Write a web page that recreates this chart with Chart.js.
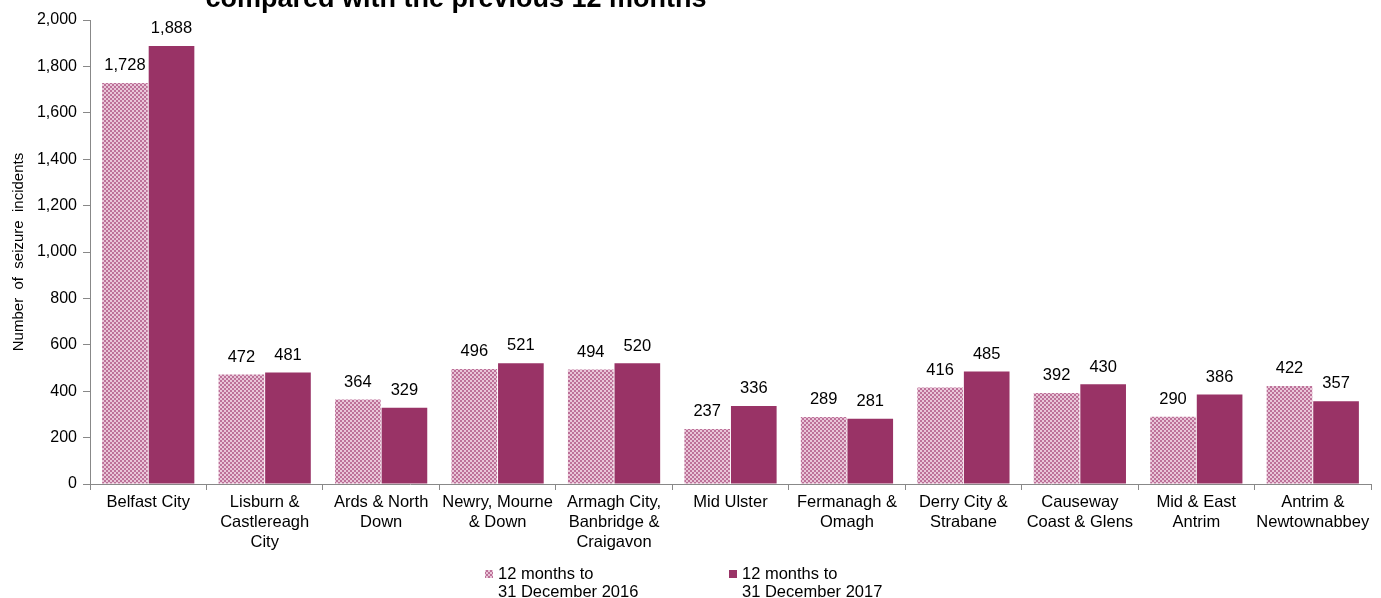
<!DOCTYPE html>
<html>
<head>
<meta charset="utf-8">
<script src="https://cdn.jsdelivr.net/npm/chart.js@4.4.1/dist/chart.umd.min.js"></script>
<style>
  html, body { margin: 0; padding: 0; background: #fff; }
  #wrap { width: 1381px; height: 598px; position: relative; }
</style>
</head>
<body>
<div id="wrap"><canvas id="seizureChart" width="1381" height="598"></canvas></div>
<script>
// Seizure incidents by policing district
const districts = [
    ["Belfast City"],
    ["Lisburn &", "Castlereagh", "City"],
    ["Ards & North", "Down"],
    ["Newry, Mourne", "& Down"],
    ["Armagh City,", "Banbridge &", "Craigavon"],
    ["Mid Ulster"],
    ["Fermanagh &", "Omagh"],
    ["Derry City &", "Strabane"],
    ["Causeway", "Coast & Glens"],
    ["Mid & East", "Antrim"],
    ["Antrim &", "Newtownabbey"]
];
const incidents2016 = [1728, 472, 364, 496, 494, 237, 289, 416, 392, 290, 422];
const incidents2017 = [1888, 481, 329, 521, 520, 336, 281, 485, 430, 386, 357];
const seriesNames = [["12 months to", "31 December 2016"], ["12 months to", "31 December 2017"]];
const yTicks = [0, 200, 400, 600, 800, 1000, 1200, 1400, 1600, 1800, 2000];
const titleText = "compared with the previous 12 months";
const yTitle = "Number  of  seizure  incidents";

const FONT = "'Liberation Sans', Arial, sans-serif";
const solidColour = "#993366";

// small checkered fill for the earlier period
function makeChecker() {
    const c = document.createElement("canvas");
    c.width = 4; c.height = 4;
    const g = c.getContext("2d");
    g.fillStyle = "#e9c6d8";
    g.fillRect(0, 0, 4, 4);
    g.fillStyle = "#bd7199";
    g.fillRect(0, 0, 2, 2);
    g.fillRect(2, 2, 2, 2);
    return g.createPattern(c, "repeat");
}
const checker = makeChecker();

// value labels over each bar
const valueLabels = {
    id: "valueLabels",
    afterDatasetsDraw(chart) {
        const ctx = chart.ctx;
        ctx.save();
        ctx.font = "16.5px " + FONT;
        ctx.fillStyle = "#000";
        ctx.textAlign = "center";
        ctx.textBaseline = "bottom";
        chart.data.datasets.forEach((ds, i) => {
            chart.getDatasetMeta(i).data.forEach((bar, j) => {
                ctx.fillText(ds.data[j].toLocaleString("en-GB"), bar.x, bar.y - 9);
            });
        });
        ctx.restore();
    }
};

// cut-off title line at the very top
const topTitle = {
    id: "topTitle",
    afterDraw(chart) {
        const ctx = chart.ctx;
        ctx.save();
        ctx.font = "bold 27px " + FONT;
        ctx.fillStyle = "#000";
        ctx.textAlign = "center";
        ctx.textBaseline = "alphabetic";
        ctx.fillText(titleText, 456, 7);
        ctx.restore();
    }
};

// two-line legend below the axis
const bottomLegend = {
    id: "bottomLegend",
    afterDraw(chart) {
        const ctx = chart.ctx;
        const xs = [485, 729];
        ctx.save();
        ctx.font = "16.5px " + FONT;
        ctx.textBaseline = "middle";
        ctx.textAlign = "left";
        chart.data.datasets.forEach((ds, i) => {
            ctx.fillStyle = ds.backgroundColor;
            ctx.fillRect(xs[i], 570, 8, 8);
            ctx.fillStyle = "#000";
            seriesNames[i].forEach((line, k) => {
                ctx.fillText(line, xs[i] + 13, 574 + k * 18);
            });
        });
        ctx.restore();
    }
};

new Chart(document.getElementById("seizureChart"), {
    type: "bar",
    data: {
        labels: districts,
        datasets: [
            {
                label: seriesNames[0].join(" "),
                data: incidents2016,
                backgroundColor: checker,
                categoryPercentage: 0.8,
                barPercentage: 0.98
            },
            {
                label: seriesNames[1].join(" "),
                data: incidents2017,
                backgroundColor: solidColour,
                categoryPercentage: 0.8,
                barPercentage: 0.98
            }
        ]
    },
    options: {
        responsive: false,
        animation: false,
        layout: { padding: { left: 10, right: 10, top: 20, bottom: 0 } },
        plugins: {
            legend: { display: false },
            tooltip: { enabled: false }
        },
        scales: {
            x: {
                grid: {
                    offset: true,
                    drawOnChartArea: false,
                    color: "#888",
                    tickLength: 6
                },
                border: { color: "#888" },
                ticks: {
                    color: "#000",
                    font: { family: FONT, size: 16.5, lineHeight: 1.2 },
                    maxRotation: 0,
                    autoSkip: false,
                    padding: 3
                },
                afterFit(scale) { scale.height = 114; }
            },
            y: {
                min: 0,
                max: 2000,
                afterBuildTicks(scale) {
                    scale.ticks = yTicks.map(v => ({ value: v }));
                },
                grid: {
                    drawOnChartArea: false,
                    color: "#888",
                    tickLength: 7
                },
                border: { color: "#888" },
                ticks: {
                    color: "#000",
                    font: { family: FONT, size: 16 },
                    padding: 6,
                    callback: v => v.toLocaleString("en-GB")
                },
                title: {
                    display: true,
                    text: yTitle,
                    color: "#000",
                    font: { family: FONT, size: 15 },
                    padding: { top: 0, bottom: 4 }
                },
                afterFit(scale) { scale.width = 80; }
            }
        }
    },
    plugins: [valueLabels, topTitle, bottomLegend]
});
</script>
</body>
</html>
